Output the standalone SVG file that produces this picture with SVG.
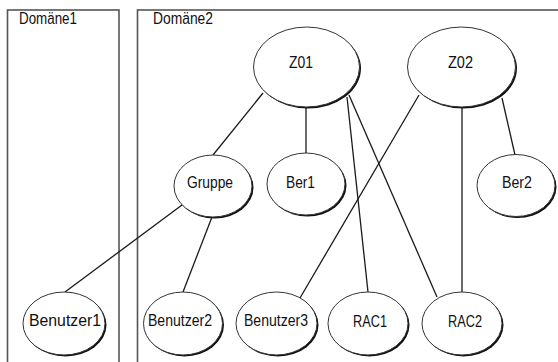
<svg xmlns="http://www.w3.org/2000/svg" width="558" height="362" viewBox="0 0 558 362">
<style>
.dom{fill:none;stroke:#555;stroke-width:1.6}
.sh{fill:#111;stroke:none}
.el{fill:#fff;stroke:#333;stroke-width:1}
.t{font-family:"Liberation Sans Narrow","Liberation Sans",Arial,sans-serif;font-size:16px;fill:#111;text-anchor:start}
.c{stroke:#1a1a1a;stroke-width:1.3;fill:none}
</style>
<rect width="558" height="362" fill="#fff"/>
<g id="domaene1">
<rect class="dom" x="7.5" y="10" width="111.5" height="400"/>
<text class="t" x="19" y="24" textLength="58" lengthAdjust="spacingAndGlyphs">Domäne1</text>
</g>
<g id="domaene2">
<rect class="dom" x="137.5" y="10" width="500" height="400"/>
<text class="t" x="153" y="24" textLength="60" lengthAdjust="spacingAndGlyphs">Domäne2</text>
</g>
<g id="connectors">
<line class="c" x1="263" y1="93" x2="213" y2="155"/>
<line class="c" x1="306" y1="107" x2="306" y2="154"/>
<line class="c" x1="347" y1="97" x2="368" y2="292"/>
<line class="c" x1="349" y1="95" x2="437" y2="297"/>
<line class="c" x1="419" y1="95" x2="300" y2="298"/>
<line class="c" x1="462" y1="107" x2="462" y2="292"/>
<line class="c" x1="502" y1="98" x2="515" y2="155"/>
<line class="c" x1="182" y1="205" x2="65" y2="292"/>
<line class="c" x1="212" y1="217" x2="183" y2="292"/>
</g>
<g id="Z01">
<ellipse class="sh" cx="308" cy="68.5" rx="53" ry="40"/>
<ellipse class="el" cx="306.5" cy="67" rx="53" ry="40"/>
<text class="t" x="289" y="68" textLength="24" lengthAdjust="spacingAndGlyphs">Z01</text>
</g>
<g id="Z02">
<ellipse class="sh" cx="463" cy="68.5" rx="54" ry="40"/>
<ellipse class="el" cx="461.5" cy="67" rx="54" ry="40"/>
<text class="t" x="448" y="68" textLength="25" lengthAdjust="spacingAndGlyphs">Z02</text>
</g>
<g id="Gruppe">
<ellipse class="sh" cx="214.5" cy="187.5" rx="39" ry="31"/>
<ellipse class="el" cx="213" cy="186" rx="39" ry="31"/>
<text class="t" x="187" y="188" textLength="46" lengthAdjust="spacingAndGlyphs">Gruppe</text>
</g>
<g id="Ber1">
<ellipse class="sh" cx="307.5" cy="185.5" rx="39" ry="31"/>
<ellipse class="el" cx="306" cy="184" rx="39" ry="31"/>
<text class="t" x="286" y="188" textLength="29" lengthAdjust="spacingAndGlyphs">Ber1</text>
</g>
<g id="Ber2">
<ellipse class="sh" cx="517.5" cy="187" rx="39" ry="31"/>
<ellipse class="el" cx="516" cy="185.5" rx="39" ry="31"/>
<text class="t" x="502" y="188" textLength="30" lengthAdjust="spacingAndGlyphs">Ber2</text>
</g>
<g id="Benutzer1">
<ellipse class="sh" cx="65.5" cy="325" rx="41" ry="31.5"/>
<ellipse class="el" cx="64" cy="323.5" rx="41" ry="31.5"/>
<text class="t" x="29" y="326" textLength="72" lengthAdjust="spacingAndGlyphs">Benutzer1</text>
</g>
<g id="Benutzer2">
<ellipse class="sh" cx="184.5" cy="325" rx="39.5" ry="31.5"/>
<ellipse class="el" cx="183" cy="323.5" rx="39.5" ry="31.5"/>
<text class="t" x="148" y="326" textLength="64" lengthAdjust="spacingAndGlyphs">Benutzer2</text>
</g>
<g id="Benutzer3">
<ellipse class="sh" cx="278" cy="325" rx="40.5" ry="31.5"/>
<ellipse class="el" cx="276.5" cy="323.5" rx="40.5" ry="31.5"/>
<text class="t" x="244" y="326" textLength="64" lengthAdjust="spacingAndGlyphs">Benutzer3</text>
</g>
<g id="RAC1">
<ellipse class="sh" cx="369.5" cy="325" rx="40" ry="31.5"/>
<ellipse class="el" cx="368" cy="323.5" rx="40" ry="31.5"/>
<text class="t" x="353" y="327" textLength="34" lengthAdjust="spacingAndGlyphs">RAC1</text>
</g>
<g id="RAC2">
<ellipse class="sh" cx="463.5" cy="325" rx="40" ry="31.5"/>
<ellipse class="el" cx="462" cy="323.5" rx="40" ry="31.5"/>
<text class="t" x="448" y="327" textLength="34" lengthAdjust="spacingAndGlyphs">RAC2</text>
</g>
</svg>
